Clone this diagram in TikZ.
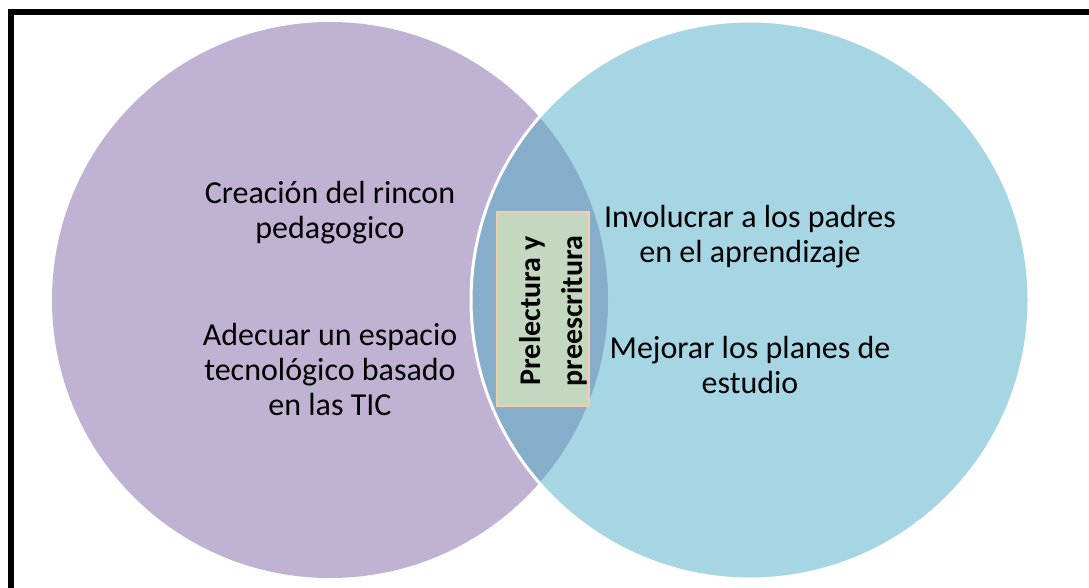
\documentclass[tikz,border=0pt]{standalone}
\usepackage{fontspec}
\setmainfont{Carlito}
\definecolor{purp}{HTML}{BFB2D3}
\definecolor{lblue}{HTML}{A6D5E3}
\definecolor{inter}{HTML}{86AECA}
\definecolor{boxfill}{HTML}{C3D8BF}
\definecolor{boxline}{HTML}{F8CBAD}
\tikzset{
  body/.style={align=center, font=\fontsize{32}{35}\selectfont, inner sep=0pt, anchor=base},
  centerbox/.style={draw=boxline, line width=1.5pt, fill=boxfill, minimum width=92pt, minimum height=194pt, inner sep=0pt}
}
\begin{document}
\begin{tikzpicture}[x=1pt,y=-1pt]
\useasboundingbox (0,0) rectangle (1089,588);
\clip (0,0) rectangle (1089,588);
\fill[white] (0,0) rectangle (1089,588);
% frame
\draw[line width=6pt] (1095,12) -- (11,12) -- (11,595);
% circles
\fill[purp] (330,300) circle (278);
\fill[lblue] (750,300) circle (279);
\begin{scope}
  \clip (330,300) circle (278);
  \fill[inter] (750,300) circle (279);
\end{scope}
\draw[white, line width=3pt] (750,300) circle (279);
% texts
\node[body] (t1) at (330,238) {Creación del rincon\\pedagogico};
\node[body] (t2) at (330,415) {Adecuar un espacio\\tecnológico basado\\en las TIC};
\node[body] (t3) at (750,262) {Involucrar a los padres\\en el aprendizaje};
\node[body] (t4) at (750,393) {Mejorar los planes de\\estudio};
% center box
\node[centerbox] (box) at (543,309) {};
\node[rotate=90, align=center, font=\fontsize{30}{42}\selectfont\bfseries, inner sep=0pt] (bt) at (553,311) {Prelectura y\\preescritura};
\end{tikzpicture}
\end{document}
